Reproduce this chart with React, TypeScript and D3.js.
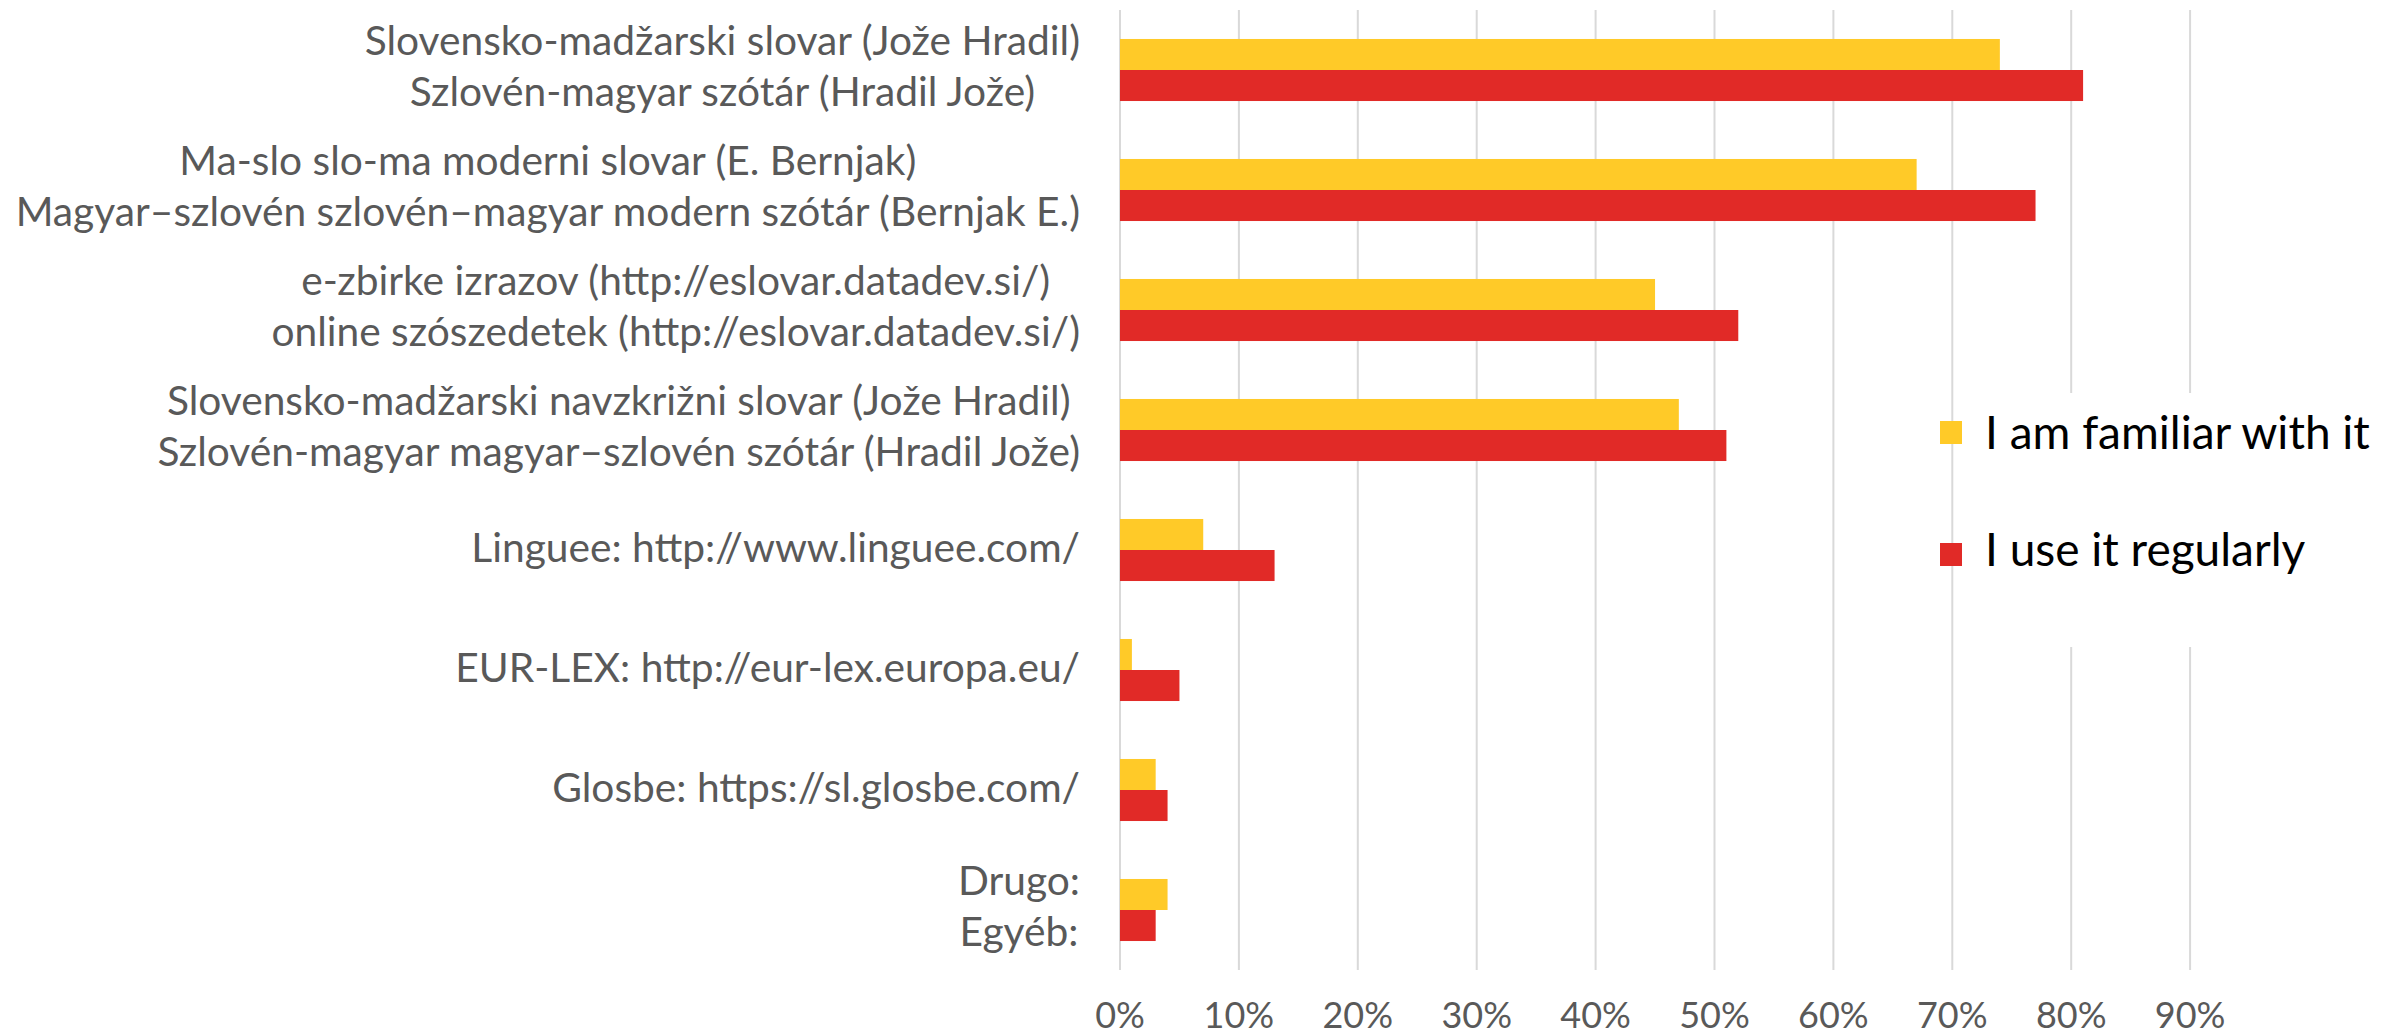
import React, { useEffect, useRef } from "react";
import * as d3 from "d3";

const categories: string[][] = [
  ["Slovensko-madžarski slovar (Jože Hradil)", "Szlovén-magyar szótár (Hradil Jože)"],
  ["Ma-slo slo-ma moderni slovar (E. Bernjak)", "Magyar–szlovén szlovén–magyar modern szótár (Bernjak E.)"],
  ["e-zbirke izrazov (http://eslovar.datadev.si/)", "online szószedetek (http://eslovar.datadev.si/)"],
  ["Slovensko-madžarski navzkrižni slovar (Jože Hradil)", "Szlovén-magyar magyar–szlovén szótár (Hradil Jože)"],
  ["Linguee: http://www.linguee.com/"],
  ["EUR-LEX: http://eur-lex.europa.eu/"],
  ["Glosbe: https://sl.glosbe.com/"],
  ["Drugo:", "Egyéb:"],
];

const seriesNames = ["I am familiar with it", "I use it regularly"];
const familiar = [74, 67, 45, 47, 7, 1, 3, 4];
const regularly = [81, 77, 52, 51, 13, 5, 4, 3];
const ticks = [0, 10, 20, 30, 40, 50, 60, 70, 80, 90];
const colors = ["#FFCA28", "#E12A27"];

const W = 2399;
const H = 1035;
const FONT = "Lato, 'Source Sans Pro', sans-serif";

export default function App() {
  const ref = useRef<SVGSVGElement | null>(null);

  useEffect(() => {
    const svg = d3.select(ref.current);
    svg.selectAll("*").remove();

    const x = d3.scaleLinear().domain([0, 100]).range([1120, 2309]);
    const keys = categories.map((_, i) => String(i));
    const y = d3.scaleBand().domain(keys).range([10, 970]).paddingInner(0).paddingOuter(0);
    const groupH = y.bandwidth() * 0.517;
    const inner = d3.scaleBand().domain(seriesNames).range([0, groupH]);

    // gridlines
    svg
      .append("g")
      .selectAll("line")
      .data(ticks)
      .join("line")
      .attr("x1", (d) => x(d))
      .attr("x2", (d) => x(d))
      .attr("y1", 10)
      .attr("y2", 970)
      .attr("stroke", "#D9D9D9")
      .attr("stroke-width", 2);

    // bars
    const values = [familiar, regularly];
    const barsG = svg.append("g");
    values.forEach((vals, si) => {
      barsG
        .append("g")
        .selectAll("rect")
        .data(vals)
        .join("rect")
        .attr("x", x(0))
        .attr("y", (_, i) => (y(keys[i]) as number) + y.bandwidth() / 2 - groupH / 2 + (inner(seriesNames[si]) as number))
        .attr("width", (d) => x(d) - x(0))
        .attr("height", inner.bandwidth())
        .attr("fill", colors[si]);
    });

    // tick labels
    svg
      .append("g")
      .selectAll("text")
      .data(ticks)
      .join("text")
      .attr("x", (d) => x(d))
      .attr("y", 1028)
      .attr("text-anchor", "middle")
      .attr("font-family", FONT)
      .attr("font-size", 36)
      .attr("fill", "#595959")
      .text((d) => `${d}%`);

    // category labels (lines centred on each other, block right-aligned)
    const labelsG = svg.append("g");
    categories.forEach((lines, i) => {
      const c = (y(keys[i]) as number) + y.bandwidth() / 2;
      const g = labelsG.append("g");
      const offsets = lines.length === 2 ? [-15, 36] : [12];
      lines.forEach((t, li) => {
        g.append("text")
          .attr("x", 0)
          .attr("y", c + offsets[li])
          .attr("text-anchor", "middle")
          .attr("font-family", FONT)
          .attr("font-size", 40.7)
          .attr("fill", "#595959")
          .text(t);
      });
      const bb = (g.node() as SVGGElement).getBBox();
      g.attr("transform", `translate(${1080 - (bb.x + bb.width)},0)`);
    });

    // legend
    const leg = svg.append("g");
    leg.append("rect").attr("x", 1972).attr("y", 393).attr("width", W - 1972).attr("height", 254).attr("fill", "#fff");
    const markerY = [421, 543];
    const textY = [449, 566];
    seriesNames.forEach((n, i) => {
      leg
        .append("rect")
        .attr("x", 1940)
        .attr("y", markerY[i])
        .attr("width", 22)
        .attr("height", 23)
        .attr("fill", colors[i]);
      leg
        .append("text")
        .attr("x", 1985)
        .attr("y", textY[i])
        .attr("font-family", FONT)
        .attr("font-size", 46)
        .attr("fill", "#000")
        .text(n);
    });
  }, []);

  return (
    <svg
      ref={ref}
      width={W}
      height={H}
      style={{ position: "absolute", left: 0, top: 0, background: "#fff" }}
    />
  );
}
